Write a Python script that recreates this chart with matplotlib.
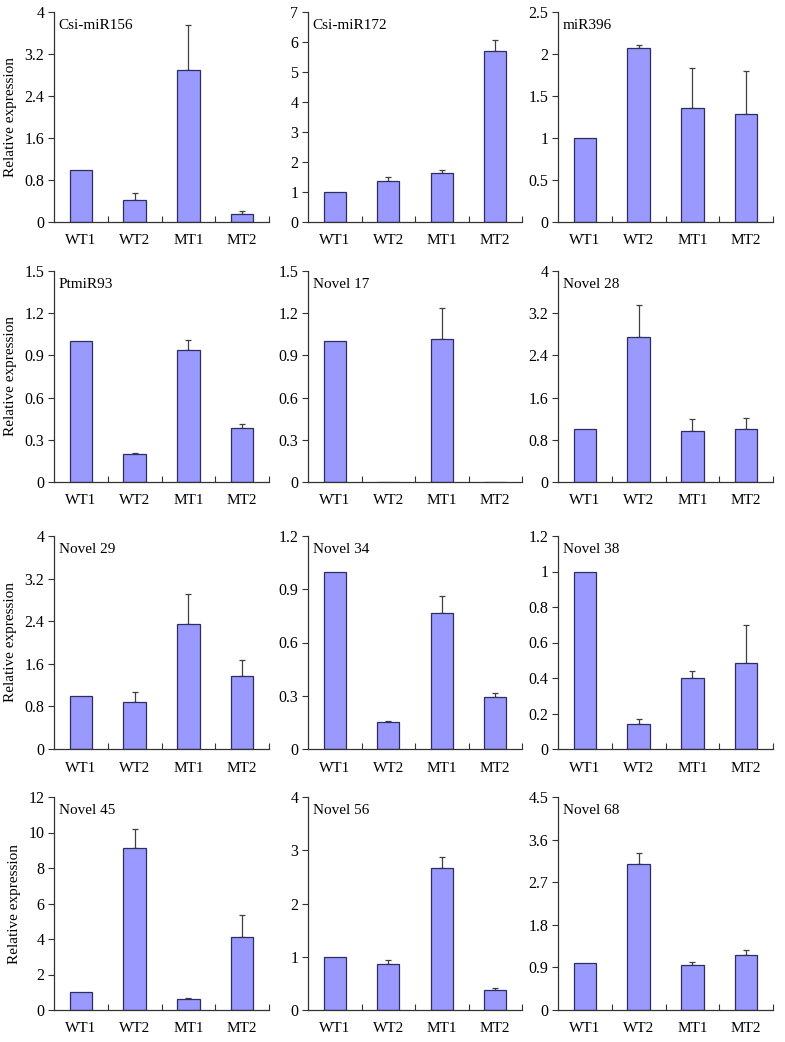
# -*- coding: utf-8 -*-
# qRT-PCR style grid of relative expression bar charts (4 x 3 panels)

import numpy as np
import matplotlib
matplotlib.use("Agg")
import matplotlib.pyplot as plt
from matplotlib.ticker import FuncFormatter, MultipleLocator

plt.rcParams['font.family'] = ['Liberation Serif', 'DejaVu Serif']
plt.rcParams['font.size'] = 11

# data
samples = ["WT1", "WT2", "MT1", "MT2"]

panel_names = ["Csi-miR156", "Csi-miR172", "miR396",
               "PtmiR93", "Novel 17", "Novel 28",
               "Novel 29", "Novel 34", "Novel 38",
               "Novel 45", "Novel 56", "Novel 68"]

mir156 = [1.0, 0.42, 2.9, 0.16]
mir156_err = [0.0, 0.14, 0.85, 0.05]
mir172 = [1.0, 1.37, 1.64, 5.69]
mir172_err = [0.0, 0.12, 0.11, 0.37]
mir396 = [1.0, 2.07, 1.36, 1.29]
mir396_err = [0.0, 0.04, 0.47, 0.51]
ptmir93 = [1.0, 0.196, 0.936, 0.383]
ptmir93_err = [0.0, 0.012, 0.07, 0.031]
novel17 = [1.0, 0.0, 1.015, 0.0]
novel17_err = [0.0, 0.0, 0.22, 0.0]
novel28 = [1.0, 2.75, 0.96, 1.01]
novel28_err = [0.0, 0.61, 0.23, 0.21]
novel29 = [1.0, 0.885, 2.35, 1.365]
novel29_err = [0.0, 0.19, 0.56, 0.315]
novel34 = [1.0, 0.15, 0.767, 0.294]
novel34_err = [0.0, 0.01, 0.094, 0.024]
novel38 = [1.0, 0.142, 0.401, 0.486]
novel38_err = [0.0, 0.029, 0.037, 0.214]
novel45 = [1.0, 9.12, 0.62, 4.1]
novel45_err = [0.0, 1.1, 0.06, 1.26]
novel56 = [1.0, 0.857, 2.67, 0.373]
novel56_err = [0.0, 0.073, 0.21, 0.043]
novel68 = [1.0, 3.08, 0.948, 1.159]
novel68_err = [0.0, 0.23, 0.056, 0.105]

means = [mir156, mir172, mir396, ptmir93, novel17, novel28,
         novel29, novel34, novel38, novel45, novel56, novel68]
errors = [mir156_err, mir172_err, mir396_err, ptmir93_err, novel17_err, novel28_err,
          novel29_err, novel34_err, novel38_err, novel45_err, novel56_err, novel68_err]

y_max = [4, 7, 2.5, 1.5, 1.5, 4, 4, 1.2, 1.2, 12, 4, 4.5]
y_step = [0.8, 1, 0.5, 0.3, 0.3, 0.8, 0.8, 0.3, 0.2, 2, 1, 0.9]

# layout in pixels (figure is 785 x 1042)
W, H = 785, 1042
col_left = [54, 308, 558]
col_width = [215, 214, 215]
row_top = [12, 271, 536, 797]
row_zero = [222, 482, 749, 1010]

bar_color = "#9999FF"
edge_color = "#2E2E5E"
axis_color = "#333333"

fig = plt.figure(figsize=(W / 100, H / 100), dpi=100)

fmt = FuncFormatter(lambda v, pos: f"{round(v, 3):g}")

for i in range(12):
    r, c = divmod(i, 3)
    ax = fig.add_axes([col_left[c] / W, 1 - row_zero[r] / H,
                       col_width[c] / W, (row_zero[r] - row_top[r]) / H])
    x = np.arange(len(samples))
    vals = np.array(means[i])
    errs = np.array(errors[i])

    ax.bar(x, vals, width=0.42, color=bar_color, edgecolor=edge_color,
           linewidth=0.9, zorder=2)
    # one-sided (upper) error bars, only where there is an error
    m = errs > 0
    ax.errorbar(x[m], vals[m], yerr=[np.zeros(m.sum()), errs[m]], fmt='none',
                ecolor="#404040", elinewidth=0.9, capsize=2.5, capthick=0.9,
                zorder=1)

    ax.set_xlim(-0.5, 3.5)
    ax.set_ylim(0, y_max[i])
    ax.yaxis.set_major_locator(MultipleLocator(y_step[i]))
    ax.yaxis.set_major_formatter(fmt)

    ax.set_xticks(x)
    ax.set_xticklabels(samples)
    ax.set_xticks([0.5, 1.5, 2.5, 3.5], minor=True)
    ax.tick_params(axis='x', which='major', length=0, pad=9, labelsize=11)
    ax.tick_params(axis='x', which='minor', direction='in', length=4,
                   width=0.8, color=axis_color)
    ax.tick_params(axis='y', direction='out', length=4, width=0.8,
                   color=axis_color, pad=3, labelsize=11.5)

    for side in ['top', 'right']:
        ax.spines[side].set_visible(False)
    for side in ['left', 'bottom']:
        ax.spines[side].set_color(axis_color)
        ax.spines[side].set_linewidth(0.9)

    ax.text(0.022, 0.935, panel_names[i], transform=ax.transAxes,
            ha='left', va='center', fontsize=11)

    if c == 0:
        ax.set_ylabel("Relative expression", fontsize=11, labelpad=5)

plt.savefig("out.png", dpi=100)
